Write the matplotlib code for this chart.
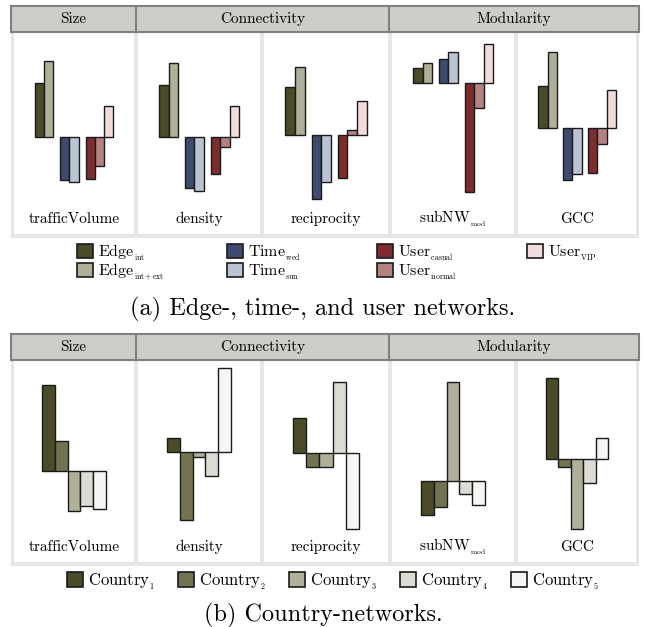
import matplotlib
matplotlib.use('Agg')
import matplotlib.pyplot as plt
from matplotlib.patches import Rectangle

plt.rcParams['font.family'] = ['cmr10', 'DejaVu Serif']
plt.rcParams['mathtext.fontset'] = 'cm'
plt.rcParams['axes.unicode_minus'] = False

metrics = ['trafficVolume', 'density', 'reciprocity', r'subNW$_{_{\mathrm{mod}}}$', 'GCC']
groups = ['Size', 'Connectivity', 'Modularity']

# (a) edge-, time- and user networks (arbitrary units)
net_labels = [r'Edge$_{_{\mathrm{int}}}$', r'Edge$_{_{\mathrm{int+ext}}}$',
              r'Time$_{_{\mathrm{wed}}}$', r'Time$_{_{\mathrm{sun}}}$',
              r'User$_{_{\mathrm{casual}}}$', r'User$_{_{\mathrm{normal}}}$', r'User$_{_{\mathrm{VIP}}}$']
edge_int = [54, 52, 48, 15, 42]
edge_ext = [76, 74, 68, 20, 76]
time_wed = [-43, -51, -64, 24, -52]
time_sun = [-45, -54, -47, 31, -46]
user_casual = [-42, -37, -43, -109, -45]
user_normal = [-29, -10, 5, -25, -16]
user_vip = [31, 31, 34, 39, 38]
net_colors = ['#4b4b27', '#b0b09a', '#3f4b6e', '#b9c3d3', '#7d2d2f', '#b38281', '#f0dcdc']

# (b) country networks
country_labels = [r'Country$_{_{1}}$', r'Country$_{_{2}}$', r'Country$_{_{3}}$',
                  r'Country$_{_{4}}$', r'Country$_{_{5}}$']
country1 = [86, 14, 35, -34, 81]
country2 = [30, -68, -14, -26, -8]
country3 = [-40, -5, -14, 99, -70]
country4 = [-35, -24, 71, -13, -24]
country5 = [-38, 84, -76, -24, 21]
country_colors = ['#4b4b27', '#737352', '#b0b09a', '#dcdcd4', '#f5f5f3']

# layout (pixels)
W, H = 646, 627
col_x = [(14, 134), (138, 260), (264, 388), (392, 514), (518, 636)]
zero_a = [137, 137, 135, 83, 128]
zero_b = [471, 452, 453, 481, 459]

fig = plt.figure(figsize=(W / 100, H / 100), dpi=100)


def fx(x):
    return x / W


def fy(y):
    return 1 - y / H


def frect(x0, y0, x1, y1, **kw):
    r = Rectangle((fx(x0), fy(y1)), fx(x1) - fx(x0), fy(y0) - fy(y1),
                  transform=fig.transFigure, **kw)
    fig.add_artist(r)


def panel(top, series, colors, xpos, zeros, span):
    hb = top + 26
    bottom = hb + 202
    frect(11, hb, 639, bottom + 4, facecolor='#e6e6e6', edgecolor='none', zorder=0)
    # header
    frect(11, top, 639, hb, facecolor='#cfcdc8', edgecolor='#808080', lw=1.5, zorder=2)
    for xd in [136, 389]:
        fig.add_artist(plt.Line2D([fx(xd), fx(xd)], [fy(top), fy(hb)],
                                  transform=fig.transFigure, color='#808080', lw=1.5, zorder=3))
    for name, (a, b) in zip(groups, [(11, 136), (136, 389), (389, 639)]):
        fig.text(fx((a + b) / 2), fy(top + 13), name, ha='center', va='center', fontsize=11, zorder=4)
    y0, y1 = hb + 1, bottom
    for i, (xa, xb) in enumerate(col_x):
        ax = fig.add_axes([fx(xa), fy(y1), fx(xb) - fx(xa), fy(y0) - fy(y1)])
        ax.set_facecolor('white')
        for s in ax.spines.values():
            s.set_visible(False)
        ax.set_xticks([])
        ax.set_yticks([])
        for vals, c, xp in zip(series, colors, xpos):
            ax.bar(xp, vals[i], width=1, color=c, edgecolor='#1a1a1a', lw=1.0)
        mid = (min(xpos) + max(xpos)) / 2
        ax.set_xlim(mid - span / 2, mid + span / 2)
        z = zeros[i]
        ax.set_ylim(-(y1 - z), z - y0)
        # metric name, same baseline in every column
        ax.text(0.5, 11 / 201, metrics[i], transform=ax.transAxes,
                ha='center', va='baseline', fontsize=11)


panel(6, [edge_int, edge_ext, time_wed, time_sun, user_casual, user_normal, user_vip],
      net_colors, [0.5, 1.5, 3.25, 4.25, 6.0, 7.0, 8.0], zero_a, 13.0)
panel(334, [country1, country2, country3, country4, country5],
      country_colors, [0, 1, 2, 3, 4], zero_b, 9.5)

# legends
leg_a = [(77, 251), (77, 270), (227, 251), (227, 270), (377, 251), (377, 270), (527, 251)]
for (x, y), lab, c in zip(leg_a, net_labels, net_colors):
    frect(x, y - 7, x + 16, y + 7, facecolor=c, edgecolor='#1a1a1a', lw=1.2)
    fig.text(fx(x + 21), fy(y + 5), lab, ha='left', va='baseline', fontsize=11.5)

leg_b = [(67, 579), (178, 579), (289, 579), (400, 579), (511, 579)]
for (x, y), lab, c in zip(leg_b, country_labels, country_colors):
    frect(x, y - 7, x + 16, y + 8, facecolor=c, edgecolor='#1a1a1a', lw=1.2)
    fig.text(fx(x + 21), fy(y + 6), lab, ha='left', va='baseline', fontsize=12)

fig.text(fx(323), fy(309), '(a) Edge-, time-, and user networks.', ha='center', va='center', fontsize=17.5)
fig.text(fx(323), fy(615), '(b) Country-networks.', ha='center', va='center', fontsize=17.5)

fig.savefig('out.png', dpi=100, facecolor='white')
